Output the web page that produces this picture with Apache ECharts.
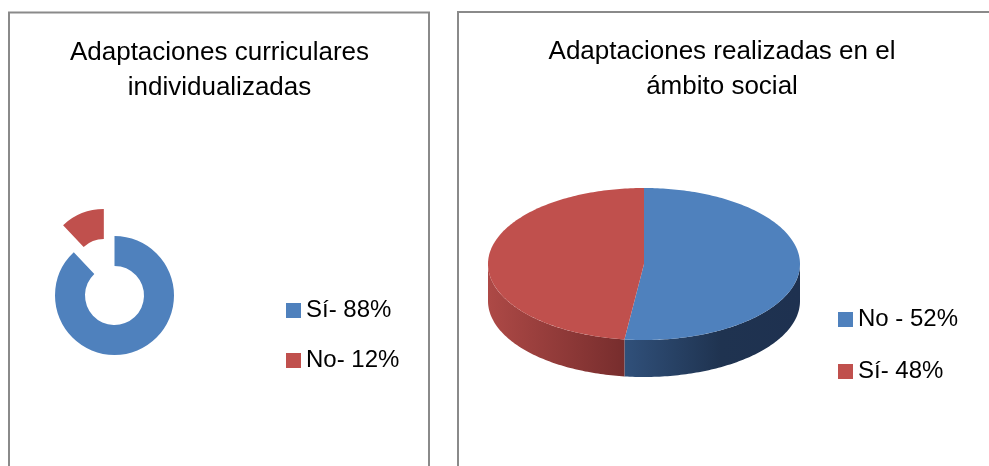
<!DOCTYPE html>
<html>
<head>
<meta charset="utf-8" />
<title>Adaptaciones</title>
<script src="https://cdn.jsdelivr.net/npm/echarts@6/dist/echarts.min.js"></script>
<style>
  html, body { margin: 0; padding: 0; background: #fff; }
  #chart { width: 989px; height: 466px; }
</style>
</head>
<body>
<div id="chart"></div>
<script type="text/javascript">
// left chart: donut
var donutTitle = 'Adaptaciones curriculares\nindividualizadas';
var donutNames = ['Sí- 88%', 'No- 12%'];
var donutValues = [88, 12];

// right chart: 3d pie
var pieTitle = 'Adaptaciones realizadas en el\námbito social';
var pieNames = ['No - 52%', 'Sí- 48%'];
var pieValues = [52, 48];

var BLUE = '#4f81bd';
var RED = '#c0504d';
var FONT = 'Liberation Sans';

// 3d pie geometry
var pie3d = { cx: 644, cy: 264, rx: 156, ry: 76, depth: 37 };
var sideStops = [
    [{offset: 0, color: '#30507a'}, {offset: 0.55, color: '#1f3350'}, {offset: 1, color: '#1e3150'}],
    [{offset: 0, color: '#ad4946'}, {offset: 1, color: '#772d2d'}]
];

var pieTotal = pieValues.reduce(function (a, b) { return a + b; }, 0);

function ellPoint(t, dy) {
    return [pie3d.cx + pie3d.rx * Math.sin(t), pie3d.cy - pie3d.ry * Math.cos(t) + (dy || 0)];
}

function arcPoints(t0, t1, dy) {
    var pts = [];
    var n = Math.max(2, Math.ceil((t1 - t0) / (Math.PI / 180)));
    for (var i = 0; i <= n; i++) {
        pts.push(ellPoint(t0 + (t1 - t0) * i / n, dy));
    }
    return pts;
}

function render3d(idx) {
    return function (params, api) {
        var start = api.value(0);
        var val = api.value(1);
        var a0 = start / pieTotal * Math.PI * 2;
        var a1 = (start + val) / pieTotal * Math.PI * 2;
        var children = [];

        var top = [[pie3d.cx, pie3d.cy]].concat(arcPoints(a0, a1, 0));
        children.push({
            type: 'polygon',
            z2: 10,
            shape: { points: top },
            style: { fill: api.visual('color') }
        });

        // visible front side
        var s0 = Math.max(a0, Math.PI / 2);
        var s1 = Math.min(a1, Math.PI * 1.5);
        if (s0 < s1) {
            var side = arcPoints(s0, s1, 0).concat(arcPoints(s0, s1, pie3d.depth).reverse());
            children.push({
                type: 'polygon',
                z2: 1,
                shape: { points: side },
                style: {
                    fill: new echarts.graphic.LinearGradient(0, 0, 1, 0, sideStops[idx])
                }
            });
        }
        return { type: 'group', children: children };
    };
}

var starts = [];
var acc = 0;
for (var i = 0; i < pieValues.length; i++) {
    starts.push(acc);
    acc += pieValues[i];
}

var series3d = pieNames.map(function (name, i) {
    return {
        name: name,
        type: 'custom',
        coordinateSystem: 'none',
        itemStyle: { color: i === 0 ? BLUE : RED },
        renderItem: render3d(i),
        data: [[starts[i], pieValues[i]]],
        silent: true
    };
});

var myChart = echarts.init(document.getElementById('chart'));

var option = {
    animation: false,
    backgroundColor: '#fff',
    textStyle: { fontFamily: FONT },
    title: [
        {
            text: donutTitle,
            left: 219.5,
            top: 35,
            padding: 0,
            textAlign: 'center',
            textStyle: { fontFamily: FONT, fontSize: 26, fontWeight: 'normal', color: '#000', lineHeight: 35 }
        },
        {
            text: pieTitle,
            left: 722,
            top: 34,
            padding: 0,
            textAlign: 'center',
            textStyle: { fontFamily: FONT, fontSize: 26, fontWeight: 'normal', color: '#000', lineHeight: 35 }
        }
    ],
    legend: [
        {
            seriesIndex: 0,
            data: donutNames,
            orient: 'vertical',
            left: 286,
            top: 297.5,
            padding: 0,
            icon: 'rect',
            itemWidth: 15,
            itemHeight: 15,
            itemGap: 24,
            selectedMode: false,
            textStyle: { fontFamily: FONT, fontSize: 24, color: '#000', lineHeight: 26 }
        },
        {
            data: pieNames,
            orient: 'vertical',
            left: 838,
            top: 306.5,
            padding: 0,
            icon: 'rect',
            itemWidth: 15,
            itemHeight: 15,
            itemGap: 26,
            selectedMode: false,
            textStyle: { fontFamily: FONT, fontSize: 24, color: '#000', lineHeight: 26 }
        }
    ],
    graphic: [
        {
            type: 'rect',
            shape: { x: 9, y: 12.5, width: 420, height: 480 },
            style: { fill: 'none', stroke: '#8a8a8a', lineWidth: 2 }
        },
        {
            type: 'rect',
            shape: { x: 458, y: 12, width: 560, height: 480 },
            style: { fill: 'none', stroke: '#8a8a8a', lineWidth: 2 }
        }
    ],
    series: [
        {
            name: 'Adaptaciones curriculares',
            type: 'pie',
            center: [114.5, 295.5],
            radius: [29.5, 59.5],
            startAngle: 90,
            clockwise: true,
            selectedMode: 'single',
            selectedOffset: 29,
            label: { show: false },
            labelLine: { show: false },
            emphasis: { disabled: true },
            silent: true,
            data: donutNames.map(function (name, i) {
                return {
                    name: name,
                    value: donutValues[i],
                    selected: i === 1,
                    itemStyle: { color: i === 0 ? BLUE : RED }
                };
            })
        }
    ].concat(series3d)
};

myChart.setOption(option);
</script>
</body>
</html>
